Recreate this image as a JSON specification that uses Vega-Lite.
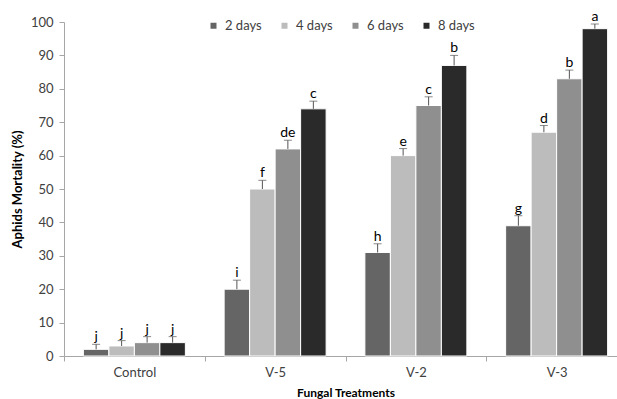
{
  "$schema": "https://vega.github.io/schema/vega-lite/v6.json",
  "width": 563,
  "height": 334,
  "autosize": "none",
  "padding": {"left": 64, "top": 22, "right": 0, "bottom": 43},
  "background": "white",
  "config": {
    "view": {"stroke": null},
    "font": "Lato",
    "axis": {
      "grid": false,
      "domainColor": "#a6a6a6",
      "tickColor": "#a6a6a6",
      "labelColor": "#404040",
      "labelFontSize": 13,
      "titleFontSize": 12,
      "titleFontWeight": "bold",
      "titleColor": "#000000"
    },
    "axisY": {
      "values": [0, 10, 20, 30, 40, 50, 60, 70, 80, 90, 100],
      "labelOverlap": false,
      "tickSize": 5,
      "labelPadding": 6,
      "titlePadding": 6,
      "titleFontSize": 13
    }
  },
  "data": {
    "values": [
      {"treatment": "Control", "days": "2 days", "mortality": 2, "upper": 3.5, "letter": "j"},
      {"treatment": "Control", "days": "4 days", "mortality": 3, "upper": 4.6, "letter": "j"},
      {"treatment": "Control", "days": "6 days", "mortality": 4, "upper": 5.8, "letter": "j"},
      {"treatment": "Control", "days": "8 days", "mortality": 4, "upper": 5.8, "letter": "j"},
      {"treatment": "V-5", "days": "2 days", "mortality": 20, "upper": 22.7, "letter": "i"},
      {"treatment": "V-5", "days": "4 days", "mortality": 50, "upper": 52.6, "letter": "f"},
      {"treatment": "V-5", "days": "6 days", "mortality": 62, "upper": 64.6, "letter": "de"},
      {"treatment": "V-5", "days": "8 days", "mortality": 74, "upper": 76.3, "letter": "c"},
      {"treatment": "V-2", "days": "2 days", "mortality": 31, "upper": 33.6, "letter": "h"},
      {"treatment": "V-2", "days": "4 days", "mortality": 60, "upper": 62.1, "letter": "e"},
      {"treatment": "V-2", "days": "6 days", "mortality": 75, "upper": 77.6, "letter": "c"},
      {"treatment": "V-2", "days": "8 days", "mortality": 87, "upper": 90.0, "letter": "b"},
      {"treatment": "V-3", "days": "2 days", "mortality": 39, "upper": 42.0, "letter": "g"},
      {"treatment": "V-3", "days": "4 days", "mortality": 67, "upper": 69.0, "letter": "d"},
      {"treatment": "V-3", "days": "6 days", "mortality": 83, "upper": 85.6, "letter": "b"},
      {"treatment": "V-3", "days": "8 days", "mortality": 98, "upper": 99.4, "letter": "a"}
    ]
  },
  "encoding": {
    "x": {
      "field": "treatment",
      "type": "nominal",
      "sort": ["Control", "V-5", "V-2", "V-3"],
      "scale": {"paddingInner": 0, "paddingOuter": 0},
      "axis": {
        "title": "Fungal Treatments",
        "labelAngle": 0,
        "tickBand": "extent",
        "tickSize": 5,
        "labelPadding": 5,
        "titlePadding": 8
      }
    },
    "xOffset": {
      "field": "days",
      "type": "nominal",
      "sort": ["2 days", "4 days", "6 days", "8 days"],
      "scale": {"paddingInner": 0, "paddingOuter": 0.76}
    }
  },
  "layer": [
    {
      "mark": {"type": "bar", "stroke": "white", "strokeWidth": 1},
      "encoding": {
        "y": {
          "field": "mortality",
          "type": "quantitative",
          "scale": {"domain": [0, 100], "nice": false},
          "axis": {"title": "Aphids Mortality (%)"}
        },
        "color": {
          "field": "days",
          "type": "nominal",
          "sort": ["2 days", "4 days", "6 days", "8 days"],
          "scale": {"range": ["#656565", "#bcbcbc", "#8f8f8f", "#2a2a2a"]},
          "legend": {
            "title": null,
            "orient": "none",
            "legendX": 143,
            "legendY": -3,
            "direction": "horizontal",
            "columns": 4,
            "symbolType": "square",
            "symbolSize": 36,
            "symbolStrokeWidth": 0,
            "labelFontSize": 13,
            "labelColor": "#404040",
            "labelOffset": 5,
            "columnPadding": 16,
            "gridAlign": "all"
          }
        }
      }
    },
    {
      "mark": {"type": "rule", "color": "#555555", "strokeWidth": 1},
      "encoding": {
        "y": {"field": "mortality", "type": "quantitative", "axis": {"title": "Aphids Mortality (%)"}},
        "y2": {"field": "upper"}
      }
    },
    {
      "mark": {"type": "tick", "color": "#555555", "thickness": 1, "size": 8, "orient": "horizontal"},
      "encoding": {
        "y": {"field": "upper", "type": "quantitative", "axis": {"title": "Aphids Mortality (%)"}}
      }
    },
    {
      "mark": {"type": "text", "fontSize": 14, "color": "#000000", "baseline": "alphabetic", "dy": -3},
      "encoding": {
        "y": {"field": "upper", "type": "quantitative", "axis": {"title": "Aphids Mortality (%)"}},
        "text": {"field": "letter"}
      }
    }
  ]
}
